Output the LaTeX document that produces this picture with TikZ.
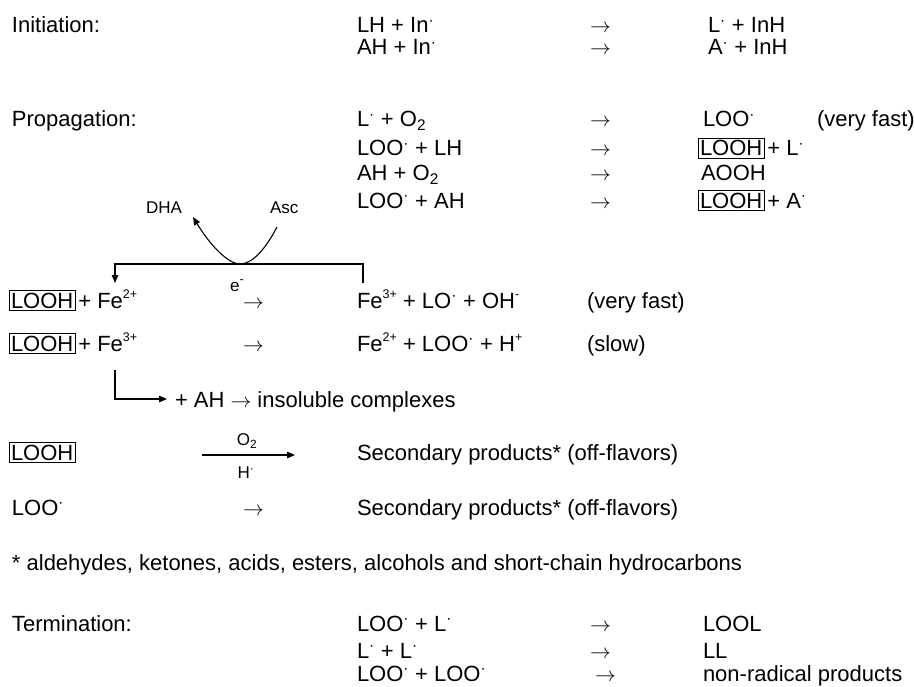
\documentclass[tikz,border=0pt]{standalone}
\usepackage{fontspec}
\setmainfont{Liberation Sans}
\usetikzlibrary{arrows.meta}

% radical dot, charges and the reaction arrow
\newcommand{\rad}{\textsuperscript{·}}
\newcommand{\chg}[1]{\raisebox{0.42em}{\fontsize{12.5}{13}\selectfont #1}}
\newcommand{\yields}{\ensuremath{\rightarrow}}
\newcommand{\mainsize}{\fontsize{22}{25}\selectfont}
\newcommand{\labelsize}{\fontsize{17}{20}\selectfont}

\begin{document}
\begin{tikzpicture}[x=1pt,y=-1pt,
  every node/.style={inner sep=0pt, outer sep=0pt, font=\mainsize},
  txt/.style={anchor=base west},
  lbl/.style={font=\labelsize},
  boxed/.style={draw, line width=0.8pt, inner sep=2pt, anchor=base west},
  conn/.style={line width=1.1pt},
  tip/.style={-{Triangle[length=8pt,width=6.5pt]}}
]
\useasboundingbox (0,0) rectangle (915,687);

% ---------- initiation ----------
\node[txt] (ini) at (12,33) {Initiation:};
\node[txt] (i1a) at (357,33) {LH + In\rad};
\node[txt] (i1y) at (590,33) {\yields};
\node[txt] (i1b) at (708,33) {L\rad{} + InH};
\node[txt] (i2a) at (357,55) {AH + In\rad};
\node[txt] (i2y) at (590,55) {\yields};
\node[txt] (i2b) at (708,55) {A\rad{} + InH};

% ---------- propagation ----------
\node[txt] (pro) at (12,127) {Propagation:};
\node[txt] (p1a) at (357,127) {L\rad{} + O\textsubscript{2}};
\node[txt] (p1y) at (590,127) {\yields};
\node[txt] (p1b) at (703,127) {LOO\rad};
\node[txt] (p1c) at (817,127) {(very fast)};
\node[txt] (p2a) at (357,156) {LOO\rad{} + LH};
\node[txt] (p2y) at (590,156) {\yields};
\node[boxed] (p2b) at (698,156) {LOOH};
\node[txt] (p2c) at ([xshift=3pt]p2b.base east) {+ L\rad};
\node[txt] (p3a) at (357,181) {AH + O\textsubscript{2}};
\node[txt] (p3y) at (590,181) {\yields};
\node[txt] (p3b) at (701,181) {AOOH};
\node[txt] (p4a) at (357,208) {LOO\rad{} + AH};
\node[txt] (p4y) at (590,208) {\yields};
\node[boxed] (p4b) at (698,208) {LOOH};
\node[txt] (p4c) at ([xshift=3pt]p4b.base east) {+ A\rad};

% ---------- ascorbate electron transfer ----------
\node[lbl, anchor=base west] (dha) at (146,213) {DHA};
\node[lbl, anchor=base west] (asc) at (270,213) {Asc};
\coordinate (ascend) at (277,227);
\coordinate (ubottom) at (240,264);
\coordinate (dhatip) at (193,217);
\draw[conn, tip] (ascend) .. controls (265,250) and (252,264) .. (ubottom)
  .. controls (228,264) and (210,245) .. (dhatip);
\coordinate (eright) at (363,283);
\coordinate (eleft) at (115,283);
\draw[conn, tip] (eright) -- (eright |- ubottom) -- (eleft |- ubottom) -- (eleft);
\node[lbl, anchor=base] (elec) at (237,291) {e\chg{-}};

% ---------- iron catalysed decomposition ----------
\node[boxed] (f1a) at (9,308) {LOOH};
\node[txt] (f1b) at ([xshift=3pt]f1a.base east) {+ Fe\chg{2+}};
\node[txt] (f1y) at (243,308) {\yields};
\node[txt] (f1c) at (357,308) {Fe\chg{3+} + LO\rad{} + OH\chg{-}};
\node[txt] (f1d) at (587,308) {(very fast)};
\node[boxed] (f2a) at (9,351) {LOOH};
\node[txt] (f2b) at ([xshift=3pt]f2a.base east) {+ Fe\chg{3+}};
\node[txt] (f2y) at (243,351) {\yields};
\node[txt] (f2c) at (357,351) {Fe\chg{2+} + LOO\rad{} + H\chg{+}};
\node[txt] (f2d) at (587,351) {(slow)};

\coordinate (festart) at (115,370);
\coordinate (feend) at (167,399);
\draw[conn, tip] (festart) |- (feend);
\node[txt] (ins) at (175,407) {+ AH \yields{} insoluble complexes};

% ---------- secondary products ----------
\node[boxed] (l1) at (9,460) {LOOH};
\coordinate (oxa) at (202,455);
\coordinate (oxb) at (295,455);
\draw[conn, tip] (oxa) -- (oxb);
\node[lbl] (oxo) at (247,441) {O\textsubscript{2}};
\node[lbl] (oxh) at (246,473) {H\rad};
\node[txt] (sec1) at (357,460) {Secondary products* (off-flavors)};

\node[txt] (l2) at (12,515) {LOO\rad};
\node[txt] (l2y) at (243,515) {\yields};
\node[txt] (sec2) at (357,515) {Secondary products* (off-flavors)};

\node[txt] (fn) at (12,570) {* aldehydes, ketones, acids, esters, alcohols and short-chain hydrocarbons};

% ---------- termination ----------
\node[txt] (ter) at (12,631) {Termination:};
\node[txt] (t1a) at (357,631) {LOO\rad{} + L\rad};
\node[txt] (t1y) at (590,631) {\yields};
\node[txt] (t1b) at (703,631) {LOOL};
\node[txt] (t2a) at (357,658) {L\rad{} + L\rad};
\node[txt] (t2y) at (590,658) {\yields};
\node[txt] (t2b) at (703,658) {LL};
\node[txt] (t3a) at (357,681) {LOO\rad{} + LOO\rad};
\node[txt] (t3y) at (595,681) {\yields};
\node[txt] (t3b) at (703,681) {non-radical products};
\end{tikzpicture}
\end{document}
